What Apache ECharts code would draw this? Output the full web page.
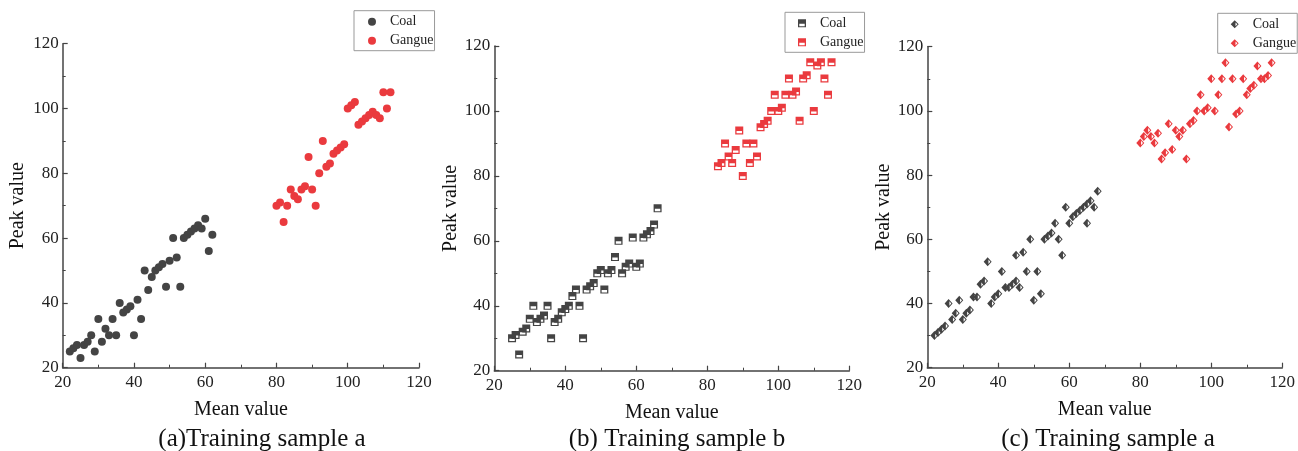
<!DOCTYPE html>
<html>
<head>
<meta charset="utf-8">
<script src="https://cdn.jsdelivr.net/npm/echarts@6/dist/echarts.min.js"></script>
<style>
html,body{margin:0;padding:0;background:#fff;}
#c{width:1298px;height:451px;}
</style>
</head>
<body>
<div id="c"></div>
<script>
// ---- data (mean value, peak value) ----
const coalA = [[22,25],[23,26],[24,27],[25,23],[26,27],[27,28],[28,30],[29,25],[30,35],[31,28],[32,32],[33,30],[34,35],[35,30],[36,40],[37,37],[38,38],[39,39],[40,30],[41,41],[42,35],[43,50],[44,44],[45,48],[46,50],[47,51],[48,52],[49,45],[50,53],[51,60],[52,54],[53,45],[54,60],[55,61],[56,62],[57,63],[58,64],[59,63],[60,66],[61,56],[62,61]];
const gangueA = [[80,70],[81,71],[82,65],[83,70],[84,75],[85,73],[86,72],[87,75],[88,76],[89,85],[90,75],[91,70],[92,80],[93,90],[94,82],[95,83],[96,86],[97,87],[98,88],[99,89],[100,100],[101,101],[102,102],[103,95],[104,96],[105,97],[106,98],[107,99],[108,98],[109,97],[110,105],[111,100],[112,105]];
const coalB = [[25,30],[26,31],[27,25],[28,32],[29,33],[30,36],[31,40],[32,35],[33,36],[34,37],[35,40],[36,30],[37,35],[38,36],[39,38],[40,39],[41,40],[42,43],[43,45],[44,40],[45,30],[46,45],[47,46],[48,47],[49,50],[50,51],[51,45],[52,50],[53,51],[54,55],[55,60],[56,50],[57,52],[58,53],[59,61],[60,52],[61,53],[62,61],[63,62],[64,63],[65,65],[66,70]];
const gangueB = [[83,83],[84,84],[85,90],[86,86],[87,84],[88,88],[89,94],[90,80],[91,90],[92,84],[93,90],[94,86],[95,95],[96,96],[97,97],[98,100],[99,105],[100,100],[101,101],[102,105],[103,110],[104,105],[105,106],[106,97],[107,110],[108,111],[109,115],[110,100],[111,114],[112,115],[113,110],[114,105],[115,115]];
const coalC = [[22,30],[23,31],[24,32],[25,33],[26,40],[27,35],[28,37],[29,41],[30,35],[31,37],[32,38],[33,42],[34,42],[35,46],[36,47],[37,53],[38,40],[39,42],[40,43],[41,50],[42,45],[43,45],[44,46],[45,47],[45,55],[46,45],[47,56],[48,50],[49,60],[50,41],[51,50],[52,43],[53,60],[54,61],[55,62],[56,65],[57,60],[58,55],[59,70],[60,65],[61,67],[62,68],[63,69],[64,70],[65,71],[65,65],[66,72],[67,70],[68,75]];
const gangueC = [[80,90],[81,92],[82,94],[83,92],[84,90],[85,93],[86,85],[87,87],[88,96],[89,88],[90,94],[91,92],[92,94],[93,85],[94,96],[95,97],[96,100],[97,105],[98,100],[99,101],[100,110],[101,100],[102,105],[103,110],[104,115],[105,95],[106,110],[107,99],[108,100],[109,110],[110,105],[111,107],[112,108],[113,114],[114,110],[115,110],[116,111],[117,115]];
const captions = ['(a)Training sample a', '(b) Training sample b', '(c) Training sample a'];
const axisTicks = {min: 20, max: 120, interval: 20};
const xTitle = 'Mean value';
const yTitle = 'Peak value';
const seriesNames = ['Coal', 'Gangue'];

// ---- style ----
const SERIF = '"Liberation Serif", "Times New Roman", serif';
const COAL = '#444444';
const GANGUE = '#ea3a3e';
const AXIS = '#444444';
const SQUARE_HALF = 'path://M0,0 L10,0 L10,10 L0,10 Z M1.6,5.6 L1.6,8.6 L8.4,8.6 L8.4,5.6 Z';
const DIAMOND_HALF = 'path://M5,0 L10,5 L5,10 L0,5 Z M6,2.6 L6,7.4 L8.4,5 Z';

const grids = [
  {left: 62.7, top: 43.7, width: 356.3, height: 324},
  {left: 494.3, top: 46, width: 355, height: 324.7},
  {left: 927.3, top: 46.7, width: 355, height: 321}
];
const legendPos = [
  {left: 354, top: 10.7, padding: [4, 1, 3, 14]},
  {left: 785, top: 12.3, padding: [4, 1, 3, 13]},
  {left: 1217.7, top: 13.3, padding: [4, 1, 3, 13]}
];
const captionPos = [[262, 439], [677, 439], [1108, 439]];
const yNameGap = [35, 34, 33];

const panelData = [[coalA, gangueA], [coalB, gangueB], [coalC, gangueC]];
const panelSymbols = [
  {sym: 'circle', size: 8},
  {sym: SQUARE_HALF, size: [8, 8]},
  {sym: DIAMOND_HALF, size: [8, 9]}
];
const suffix = ['_a', '_b', '_c'];

function mkAxis(i, isX) {
  return {
    type: 'value', gridIndex: i,
    min: axisTicks.min, max: axisTicks.max, interval: axisTicks.interval,
    name: isX ? xTitle : yTitle,
    nameLocation: 'middle',
    nameGap: isX ? 32 : yNameGap[i],
    nameTextStyle: {fontFamily: SERIF, fontSize: 20, color: '#111'},
    axisLine: {show: true, onZero: false, lineStyle: {color: AXIS, width: 1.5}},
    axisTick: {show: true, inside: true, length: 5, lineStyle: {color: AXIS, width: 1.2}},
    minorTick: {show: true, splitNumber: 2, length: 3, lineStyle: {color: AXIS, width: 1}},
    splitLine: {show: false},
    axisLabel: {fontFamily: SERIF, fontSize: 17, color: '#222', margin: isX ? 6 : 4}
  };
}

const option = {
  backgroundColor: '#fff',
  animation: false,
  grid: grids,
  xAxis: grids.map((g, i) => mkAxis(i, true)),
  yAxis: grids.map((g, i) => mkAxis(i, false)),
  legend: legendPos.map((p, i) => ({
    orient: 'vertical', left: p.left, top: p.top, padding: p.padding,
    itemWidth: 26, itemHeight: 8, itemGap: 5,
    borderColor: '#999', borderWidth: 1,
    data: seriesNames.map(n => n + suffix[i]),
    formatter: name => name.split('_')[0],
    textStyle: {fontFamily: SERIF, fontSize: 14, color: '#222'}
  })),
  series: [],
  graphic: captions.map((t, i) => ({
    type: 'text', x: captionPos[i][0], y: captionPos[i][1],
    style: {text: t, font: '25px ' + SERIF, fill: '#111', textAlign: 'center', textVerticalAlign: 'middle'}
  }))
};

panelData.forEach((pair, i) => {
  pair.forEach((d, k) => {
    option.series.push({
      type: 'scatter', name: seriesNames[k] + suffix[i],
      xAxisIndex: i, yAxisIndex: i,
      data: d,
      symbol: panelSymbols[i].sym,
      symbolSize: panelSymbols[i].size,
      itemStyle: {color: k === 0 ? COAL : GANGUE, opacity: 1}
    });
  });
});

const chart = echarts.init(document.getElementById('c'), null, {renderer: 'canvas'});
chart.setOption(option);
</script>
</body>
</html>
